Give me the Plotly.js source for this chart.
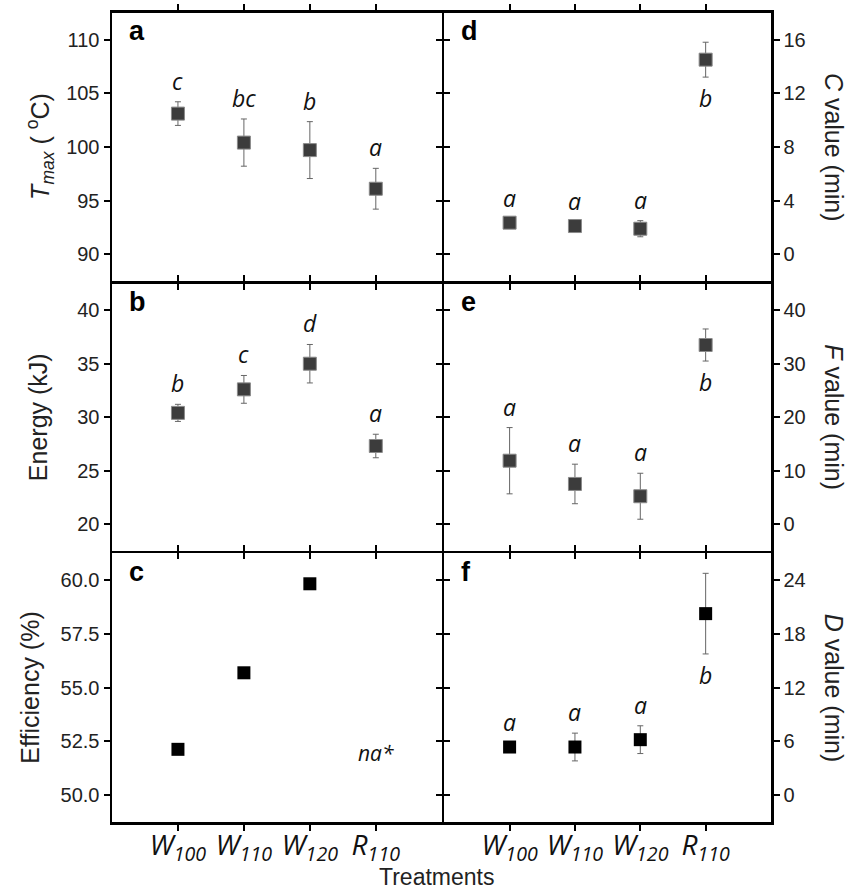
<!DOCTYPE html>
<html>
<head>
<meta charset="utf-8">
<script src="https://cdn.plot.ly/plotly-3.0.1.min.js"></script>
<style>html,body{margin:0;padding:0;background:#fff;}#chart{width:860px;height:891px;}</style>
</head>
<body>
<div id="chart"></div>
<script>
// ---- data ----
const categories = ['W100', 'W110', 'W120', 'R110'];
const tickLabels = ['<i>W<sub>100</sub></i>', '<i>W<sub>110</sub></i>', '<i>W<sub>120</sub></i>', '<i>R<sub>110</sub></i>'];

const tmax = [103.1, 100.4, 99.7, 96.1];
const tmaxErr = [1.1, 2.2, 2.65, 1.9];
const tmaxLetters = ['c', 'bc', 'b', 'a'];

const energy = [30.4, 32.6, 35.0, 27.3];
const energyErr = [0.8, 1.3, 1.8, 1.1];
const energyLetters = ['b', 'c', 'd', 'a'];

const efficiency = [52.13, 55.69, 59.83, null];
const efficiencyNote = 'na*';

const cValue = [2.35, 2.1, 1.9, 14.5];
const cErr = [0.3, 0.3, 0.6, 1.3];
const cLetters = ['a', 'a', 'a', 'b'];

const fValue = [11.85, 7.5, 5.2, 33.5];
const fErr = [6.2, 3.7, 4.3, 3.0];
const fLetters = ['a', 'a', 'a', 'b'];

const dValue = [5.37, 5.37, 6.19, 20.26];
const dErr = [0.4, 1.55, 1.55, 4.5];
const dLetters = ['a', 'a', 'a', 'b'];

// letters placed above (1) or below (-1) the point
const sideAllAbove = [1, 1, 1, 1];
const sideLastBelow = [1, 1, 1, -1];

// ---- layout helpers ----
const W = 860, H = 891, LW = 2.5, h = LW / 2;
const xL = [112 / W, (443 - h) / W], xR = [(443 + h) / W, 771 / W];
const yRows = [
  [1 - (282.3 - h) / H, 1 - 12.7 / H],
  [1 - (552 - h) / H, 1 - (282.3 + h) / H],
  [1 - 822 / H, 1 - (552 + h) / H]
];

const numFont = {family: 'Liberation Sans, Arial, sans-serif', size: 20, color: '#222'};
const italFont = {family: 'Open Sans, Noto Sans, sans-serif', size: 23, color: '#111'};

function xaxis(domain, anchor, showLabels) {
  return {
    domain: domain, anchor: anchor, type: 'category',
    categoryorder: 'array', categoryarray: categories,
    range: [-1, 4],
    tickvals: categories, ticktext: tickLabels, showticklabels: showLabels,
    tickfont: {family: 'Open Sans, Noto Sans, sans-serif', size: 28, color: '#111'},
    ticklabelstandoff: -9,
    showline: true, linewidth: LW, linecolor: '#000', mirror: 'ticks',
    ticks: 'outside', ticklen: 6, tickwidth: 2, tickcolor: '#000',
    showgrid: false, zeroline: false, fixedrange: true
  };
}
function yaxis(domain, anchor, side, range, dtick, fmt) {
  return {
    domain: domain, anchor: anchor, side: side, range: range,
    tick0: 0, dtick: dtick, tickformat: fmt || '',
    tickfont: numFont,
    showline: true, linewidth: LW, linecolor: '#000', mirror: 'ticks',
    ticks: 'outside', ticklen: 6, tickwidth: 2, tickcolor: '#000',
    showgrid: false, zeroline: false, fixedrange: true
  };
}

const grayMarker = {symbol: 'square', size: 13, color: '#3c3c3c', line: {color: '#8a8a8a', width: 1}};
const blackMarker = {symbol: 'square', size: 13, color: '#000', line: {color: '#000', width: 0}};

function pointTrace(xa, ya, vals, errs, marker) {
  const t = {x: categories, y: vals, xaxis: xa, yaxis: ya, type: 'scatter', mode: 'markers',
    marker: marker, showlegend: false, hoverinfo: 'skip', cliponaxis: false};
  if (errs) t.error_y = {type: 'data', array: errs, visible: true, thickness: 1, width: 3, color: '#666'};
  return t;
}

const data = [
  pointTrace('x', 'y', tmax, tmaxErr, grayMarker),
  pointTrace('x2', 'y2', energy, energyErr, grayMarker),
  pointTrace('x3', 'y3', efficiency, null, blackMarker),
  pointTrace('x4', 'y4', cValue, cErr, grayMarker),
  pointTrace('x5', 'y5', fValue, fErr, grayMarker),
  pointTrace('x6', 'y6', dValue, dErr, blackMarker)
];

const annotations = [];
function addLetters(xa, ya, vals, errs, letters, sides) {
  categories.forEach((c, i) => {
    const s = sides[i];
    annotations.push({
      xref: xa, yref: ya, x: c, y: vals[i] + s * errs[i],
      yshift: s * 21, text: '<i>' + letters[i] + '</i>', showarrow: false,
      font: italFont, xanchor: 'center', yanchor: 'middle'
    });
  });
}
addLetters('x', 'y', tmax, tmaxErr, tmaxLetters, sideAllAbove);
addLetters('x2', 'y2', energy, energyErr, energyLetters, sideAllAbove);
addLetters('x4', 'y4', cValue, cErr, cLetters, sideLastBelow);
addLetters('x5', 'y5', fValue, fErr, fLetters, sideLastBelow);
addLetters('x6', 'y6', dValue, dErr, dLetters, sideLastBelow);

annotations.push({xref: 'x3', yref: 'y3', x: categories[3], y: 51.94, text: '<i>' + efficiencyNote + '</i>',
  showarrow: false, font: {family: 'Open Sans, Noto Sans, sans-serif', size: 21, color: '#111'}});

// panel labels
const panelLabels = [['a', 'x', 'y'], ['b', 'x2', 'y2'], ['c', 'x3', 'y3'], ['d', 'x4', 'y4'], ['e', 'x5', 'y5'], ['f', 'x6', 'y6']];
panelLabels.forEach(p => {
  annotations.push({xref: p[1] + ' domain', yref: p[2] + ' domain', x: 0.045, y: 0.995, xanchor: 'left', yanchor: 'top',
    text: '<b>' + p[0] + '</b>', showarrow: false,
    font: {family: 'Liberation Sans, Arial, sans-serif', size: 27, color: '#000'}});
});

// axis titles
const titleFont = {family: 'Liberation Sans, Arial, sans-serif', size: 25, color: '#222'};
const leftTitles = ['<i>T<sub>max</sub></i> ( <sup>o</sup>C)', 'Energy (kJ)', 'Efficiency (%)'];
const rightTitles = ['<i>C</i> value (min)', '<i>F</i> value (min)', '<i>D</i> value (min)'];
const leftTitleX = [40, 38, 30];
[0, 1, 2].forEach(i => {
  const yc = (yRows[i][0] + yRows[i][1]) / 2;
  annotations.push({xref: 'paper', yref: 'paper', x: leftTitleX[i] / W, y: yc, textangle: -90,
    text: leftTitles[i], showarrow: false, font: titleFont, xanchor: 'center', yanchor: 'middle'});
  annotations.push({xref: 'paper', yref: 'paper', x: 834 / W, y: yc, textangle: 90,
    text: rightTitles[i], showarrow: false, font: titleFont, xanchor: 'center', yanchor: 'middle'});
});
annotations.push({xref: 'paper', yref: 'paper', x: 436 / W, y: 1 - 877 / H, text: 'Treatments',
  showarrow: false, font: {family: 'Liberation Sans, Arial, sans-serif', size: 23, color: '#222'}, xanchor: 'center', yanchor: 'middle'});

const layout = {
  width: W, height: H, margin: {l: 0, r: 0, t: 0, b: 0},
  paper_bgcolor: '#fff', plot_bgcolor: 'rgba(0,0,0,0)', showlegend: false,
  xaxis: xaxis(xL, 'y', false),
  yaxis: yaxis(yRows[0], 'x', 'left', [87.5, 112.5], 5),
  xaxis2: xaxis(xL, 'y2', false),
  yaxis2: yaxis(yRows[1], 'x2', 'left', [17.5, 42.5], 5),
  xaxis3: xaxis(xL, 'y3', true),
  yaxis3: yaxis(yRows[2], 'x3', 'left', [48.75, 61.25], 2.5, '.1f'),
  xaxis4: xaxis(xR, 'y4', false),
  yaxis4: yaxis(yRows[0], 'x4', 'right', [-2, 18], 4),
  xaxis5: xaxis(xR, 'y5', false),
  yaxis5: yaxis(yRows[1], 'x5', 'right', [-5, 45], 10),
  xaxis6: xaxis(xR, 'y6', true),
  yaxis6: yaxis(yRows[2], 'x6', 'right', [-3, 27], 6),
  annotations: annotations
};

Plotly.newPlot('chart', data, layout, {staticPlot: true, displayModeBar: false});
</script>
</body>
</html>
